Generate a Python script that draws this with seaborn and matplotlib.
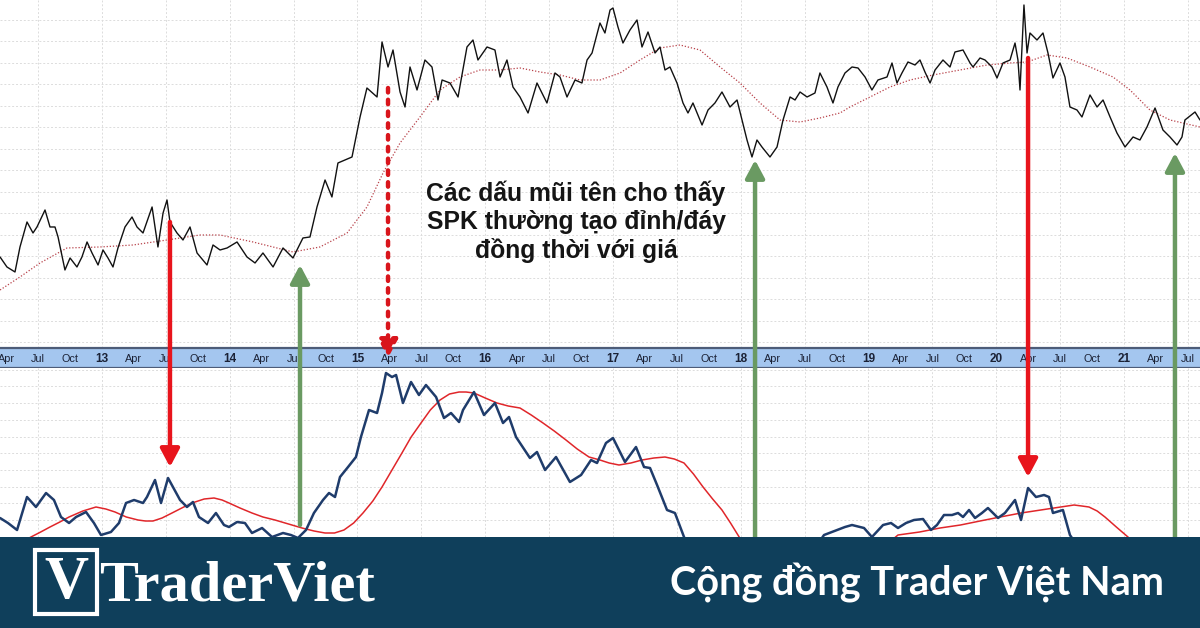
import numpy as np
import pandas as pd
import seaborn as sns
import matplotlib.pyplot as plt
from matplotlib.patches import Rectangle, ConnectionPatch

# ---- price (decimal year, level) ----
price_t = [2012.202, 2012.256, 2012.319, 2012.358, 2012.413, 2012.460, 2012.491, 2012.554, 2012.593, 2012.632,
           2012.656, 2012.710, 2012.750, 2012.804, 2012.843, 2012.883, 2012.922, 2012.969, 2013.008, 2013.047,
           2013.086, 2013.125, 2013.180, 2013.235, 2013.274, 2013.321, 2013.392, 2013.438, 2013.478, 2013.509,
           2013.532, 2013.587, 2013.634, 2013.689, 2013.744, 2013.822, 2013.869, 2013.924, 2013.979, 2014.057,
           2014.135, 2014.198, 2014.260, 2014.339, 2014.417, 2014.495, 2014.573, 2014.628, 2014.683, 2014.746,
           2014.800, 2014.847, 2014.957, 2015.020, 2015.074, 2015.153, 2015.192, 2015.239, 2015.278, 2015.333,
           2015.372, 2015.411, 2015.466, 2015.528, 2015.583, 2015.630, 2015.662, 2015.724, 2015.787, 2015.857,
           2015.904, 2015.943, 2016.014, 2016.076, 2016.116, 2016.170, 2016.217, 2016.272, 2016.335, 2016.405,
           2016.483, 2016.546, 2016.585, 2016.640, 2016.703, 2016.757, 2016.797, 2016.836, 2016.898, 2016.937,
           2016.977, 2017.000, 2017.039, 2017.078, 2017.133, 2017.188, 2017.227, 2017.274, 2017.329, 2017.368,
           2017.407, 2017.446, 2017.501, 2017.548, 2017.587, 2017.626, 2017.697, 2017.744, 2017.798, 2017.853,
           2017.916, 2017.971, 2018.010, 2018.049, 2018.088, 2018.127, 2018.166, 2018.229, 2018.284, 2018.331,
           2018.386, 2018.425, 2018.464, 2018.519, 2018.581, 2018.620, 2018.675, 2018.722, 2018.761, 2018.816,
           2018.871, 2018.918, 2018.973, 2019.027, 2019.074, 2019.145, 2019.184, 2019.223, 2019.262, 2019.309,
           2019.364, 2019.403, 2019.442, 2019.482, 2019.521, 2019.583, 2019.638, 2019.677, 2019.740, 2019.795,
           2019.818, 2019.873, 2019.912, 2019.967, 2020.006, 2020.053, 2020.108, 2020.147, 2020.170, 2020.186,
           2020.217, 2020.241, 2020.264, 2020.319, 2020.366, 2020.405, 2020.444, 2020.499, 2020.538, 2020.577,
           2020.632, 2020.671, 2020.734, 2020.789, 2020.836, 2020.891, 2020.945, 2021.008, 2021.071, 2021.125,
           2021.180, 2021.243, 2021.305, 2021.360, 2021.415, 2021.454, 2021.477, 2021.556, 2021.595]
price_v = [93, 83, 78, 103, 128, 117, 123, 140, 123, 123,
           113, 80, 92, 83, 93, 108, 97, 85, 100, 92,
           83, 102, 123, 133, 123, 117, 143, 103, 137, 150,
           128, 117, 110, 123, 97, 85, 105, 100, 102, 108,
           93, 87, 97, 83, 102, 92, 112, 113, 143, 170,
           153, 187, 193, 233, 262, 253, 308, 283, 300, 258,
           243, 283, 260, 290, 283, 250, 270, 267, 253, 303,
           310, 290, 303, 300, 273, 290, 263, 253, 237, 267,
           247, 277, 273, 253, 270, 267, 290, 297, 327, 317,
           340, 342, 323, 307, 320, 330, 303, 318, 297, 303,
           280, 283, 267, 247, 237, 247, 225, 240, 247, 258,
           243, 250, 230, 210, 193, 210, 203, 193, 203, 230,
           253, 250, 258, 253, 257, 277, 263, 247, 263, 277,
           283, 282, 273, 260, 270, 273, 287, 267, 277, 288,
           285, 290, 278, 267, 280, 290, 283, 298, 300, 287,
           283, 292, 290, 283, 272, 287, 290, 307, 290, 260,
           345, 297, 317, 310, 317, 297, 272, 287, 273, 243,
           240, 233, 255, 243, 250, 233, 217, 203, 213, 210,
           223, 242, 220, 213, 205, 213, 230, 238, 230]

# ---- moving average of price ----
ma_t = [2012.202, 2012.358, 2012.515, 2012.726, 2012.984, 2013.243, 2013.509, 2013.767, 2013.924, 2014.182,
        2014.495, 2014.706, 2014.918, 2015.074, 2015.200, 2015.333, 2015.489, 2015.646, 2015.802, 2015.959,
        2016.116, 2016.272, 2016.429, 2016.585, 2016.742, 2016.898, 2017.055, 2017.211, 2017.368, 2017.524,
        2017.681, 2017.838, 2017.994, 2018.151, 2018.307, 2018.464, 2018.620, 2018.777, 2018.855, 2019.012,
        2019.168, 2019.325, 2019.505, 2019.716, 2019.928, 2020.108, 2020.241, 2020.397, 2020.554, 2020.734,
        2020.914, 2021.047, 2021.203, 2021.360, 2021.595]
ma_v = [60, 73, 87, 102, 103, 105, 110, 115, 115, 108,
        98, 103, 117, 143, 177, 207, 233, 260, 273, 280,
        280, 282, 278, 275, 270, 270, 277, 290, 302, 305,
        300, 283, 267, 247, 230, 228, 232, 237, 243, 253,
        263, 270, 275, 280, 285, 287, 288, 295, 292, 283,
        273, 260, 240, 230, 223]

# ---- SPK indicator ----
spk_t = [2012.202, 2012.264, 2012.335, 2012.413, 2012.483, 2012.562, 2012.624, 2012.679, 2012.742, 2012.797,
         2012.875, 2012.937, 2012.992, 2013.070, 2013.133, 2013.188, 2013.251, 2013.321, 2013.352, 2013.415,
         2013.462, 2013.517, 2013.611, 2013.665, 2013.712, 2013.759, 2013.830, 2013.892, 2013.955, 2013.994,
         2014.057, 2014.119, 2014.174, 2014.253, 2014.331, 2014.417, 2014.479, 2014.534, 2014.597, 2014.659,
         2014.730, 2014.777, 2014.824, 2014.863, 2014.926, 2014.988, 2015.027, 2015.090, 2015.153, 2015.192,
         2015.223, 2015.270, 2015.302, 2015.356, 2015.419, 2015.481, 2015.536, 2015.615, 2015.677, 2015.732,
         2015.795, 2015.826, 2015.912, 2015.990, 2016.076, 2016.139, 2016.186, 2016.241, 2016.350, 2016.405,
         2016.468, 2016.554, 2016.663, 2016.750, 2016.828, 2016.875, 2016.945, 2017.000, 2017.094, 2017.180,
         2017.243, 2017.290, 2017.345, 2017.423, 2017.485, 2017.556, 2017.681, 2017.916, 2018.151, 2018.386,
         2018.542, 2018.652, 2018.816, 2018.871, 2018.965, 2019.027, 2019.114, 2019.176, 2019.231, 2019.294,
         2019.356, 2019.427, 2019.489, 2019.536, 2019.591, 2019.654, 2019.701, 2019.740, 2019.787, 2019.834,
         2019.888, 2019.935, 2020.014, 2020.068, 2020.147, 2020.194, 2020.249, 2020.311, 2020.374, 2020.413,
         2020.444, 2020.522, 2020.577, 2020.734, 2021.047, 2021.360, 2021.595]
spk_v = [22, 17, 10, 43, 33, 47, 40, 23, 17, 23,
         28, 17, 5, 8, 17, 37, 40, 37, 43, 60,
         37, 62, 40, 33, 38, 23, 17, 27, 15, 13,
         18, 17, 7, 12, 3, 7, 5, 2, 10, 27,
         40, 47, 43, 63, 73, 83, 103, 130, 127, 147,
         167, 163, 165, 137, 158, 145, 155, 143, 122, 127,
         118, 130, 148, 125, 137, 117, 123, 103, 82, 88,
         70, 83, 58, 65, 80, 77, 97, 102, 78, 93,
         73, 72, 55, 30, 27, 3, -25, -60, -70, -45,
         -15, 5, 13, 15, 12, 3, 15, 17, 12, 17,
         20, 21, 10, 15, 25, 25, 27, 23, 30, 22,
         27, 32, 22, 27, 40, 20, 52, 43, 45, 43,
         27, 30, 5, -25, -50, -40, -30]

# ---- SPK signal line ----
sig_t = [2012.202, 2012.320, 2012.444, 2012.520, 2012.593, 2012.670, 2012.742, 2012.850, 2012.953, 2013.030,
         2013.102, 2013.190, 2013.282, 2013.340, 2013.399, 2013.470, 2013.548, 2013.640, 2013.728, 2013.800,
         2013.877, 2013.940, 2013.994, 2014.080, 2014.174, 2014.260, 2014.354, 2014.460, 2014.566, 2014.660,
         2014.746, 2014.820, 2014.894, 2014.970, 2015.043, 2015.120, 2015.192, 2015.270, 2015.348, 2015.420,
         2015.497, 2015.570, 2015.646, 2015.720, 2015.795, 2015.850, 2015.912, 2016.000, 2016.092, 2016.180,
         2016.272, 2016.360, 2016.452, 2016.540, 2016.632, 2016.720, 2016.812, 2016.898, 2016.970, 2017.047,
         2017.140, 2017.227, 2017.320, 2017.407, 2017.480, 2017.556, 2017.630, 2017.705, 2017.780, 2017.853,
         2017.920, 2017.978, 2018.151, 2018.464, 2018.855, 2019.090, 2019.231, 2019.400, 2019.560, 2019.720,
         2019.873, 2020.030, 2020.194, 2020.400, 2020.609, 2020.670, 2020.726, 2020.790, 2020.851, 2020.940,
         2021.031, 2021.282, 2021.595]
sig_v = [-20, -6, 3, 8, 13, 18, 23, 29, 33, 31,
         28, 23, 20, 19, 19, 22, 27, 33, 38, 41,
         42, 40, 37, 32, 27, 23, 20, 16, 12, 9,
         7, 7, 10, 17, 27, 39, 53, 70, 87, 103,
         117, 130, 140, 146, 148, 148, 147, 142, 137, 134,
         132, 125, 117, 109, 100, 91, 83, 80, 77, 75,
         77, 80, 82, 83, 81, 77, 66, 53, 41, 30,
         17, 5, -30, -60, -40, -10, 5, 8, 12, 15,
         19, 23, 27, 31, 35, 34, 33, 29, 23, 13,
         3, -30, -60]

# ---- date band labels ----
label_years = [2012, 2013, 2014, 2015, 2016, 2017, 2018, 2019, 2020, 2021]
label_months = ["Jan", "Apr", "Jul", "Oct"]

# ---- arrows: (date, start level, start panel, tip level, tip panel, colour, style) ----
arrows = [
    (2013.532, 128, "top", 73, "bot", "#e8141c", "-"),
    (2015.239, 262, "top", -8, "top", "#d9151c", ":"),
    (2014.550, 15, "bot", 85, "top", "#6a9a62", "-"),
    (2018.112, 0, "bot", 190, "top", "#6a9a62", "-"),
    (2020.249, 292, "top", 63, "bot", "#e8141c", "-"),
    (2021.399, 0, "bot", 197, "top", "#6a9a62", "-"),
]

note = "Các dấu mũi tên cho thấy\nSPK thường tạo đỉnh/đáy\nđồng thời với giá"

price_df = pd.DataFrame({"t": price_t, "v": price_v})
ma_df = pd.DataFrame({"t": ma_t, "v": ma_v})
spk_df = pd.DataFrame({"t": spk_t, "v": spk_v})
sig_df = pd.DataFrame({"t": sig_t, "v": sig_v})

sns.set_style("white")
plt.rcParams["font.family"] = ["Liberation Sans", "DejaVu Sans"]

fig = plt.figure(figsize=(12, 6.28), dpi=100)
ax_top = fig.add_axes([0, 0.4459, 1, 0.5541])
ax_band = fig.add_axes([0, 0.4140, 1, 0.0319])
ax_bot = fig.add_axes([0, 0.1449, 1, 0.2691])
xmin, xmax = 2012.2016, 2021.595

half_years = np.arange(2012.5, 2021.6, 0.5)
grid_kw = dict(color="#dcdcdc", linestyle=(0, (2, 2)), linewidth=0.7)

for ax in (ax_top, ax_bot):
    ax.set_xlim(xmin, xmax)
    ax.set_xticks(half_years)
    ax.tick_params(length=0, labelbottom=False, labelleft=False)
    ax.grid(True, **grid_kw)
    for s in ax.spines.values():
        s.set_visible(False)

# price panel
ax_top.set_ylim(2, 350)
ax_top.set_yticks(np.arange(330, 0, -21.5))
sns.lineplot(data=ma_df, x="t", y="v", ax=ax_top, color="#b8424a", linewidth=0.9, linestyle=(0, (1, 1.5)))
sns.lineplot(data=price_df, x="t", y="v", ax=ax_top, color="#111111", linewidth=1.0)
ax_top.set_xlabel("")
ax_top.set_ylabel("")
ax_top.text(2016.711, 128, note, ha="center", va="center", fontsize=17.8, fontweight="bold",
            color="#151515", linespacing=1.2)

# SPK panel
ax_bot.set_ylim(3, 172)
ax_bot.set_yticks(np.arange(20, 172, 16.7))
sns.lineplot(data=sig_df, x="t", y="v", ax=ax_bot, color="#e0262a", linewidth=1.1)
sns.lineplot(data=spk_df, x="t", y="v", ax=ax_bot, color="#1f3c6b", linewidth=1.8)
ax_bot.set_xlabel("")
ax_bot.set_ylabel("")

# date band
ax_band.set_xlim(xmin, xmax)
ax_band.set_ylim(0, 1)
ax_band.set_facecolor("#a4c6ef")
ax_band.set_xticks([])
ax_band.set_yticks([])
for side in ("left", "right"):
    ax_band.spines[side].set_visible(False)
for side in ("top", "bottom"):
    ax_band.spines[side].set_color("#4d5c78")
    ax_band.spines[side].set_linewidth(1.6)
for yr in label_years:
    for i, mon in enumerate(label_months):
        pos = yr + i / 12 * 3
        if pos < xmin or pos > xmax:
            continue
        if mon == "Jan":
            ax_band.text(pos, 0.45, f"{yr % 100:02d}", ha="center", va="center", fontsize=8.5,
                         fontweight="bold", color="#1b2236")
        else:
            ax_band.text(pos, 0.45, mon, ha="center", va="center", fontsize=7.8, color="#1b2236")

# arrows across panels
panels = {"top": ax_top, "bot": ax_bot}
for t, y0, p0, y1, p1, col, ls in arrows:
    con = ConnectionPatch(xyA=(t, y0), coordsA=panels[p0].transData,
                          xyB=(t, y1), coordsB=panels[p1].transData,
                          arrowstyle="-|>,head_length=0.6,head_width=0.32", mutation_scale=18,
                          color=col, linewidth=3.2, linestyle=ls, zorder=6)
    fig.add_artist(con)

# banner
fig.add_artist(Rectangle((0, 0), 1, 0.1449, transform=fig.transFigure, facecolor="#0f3f5b",
                         edgecolor="none", zorder=10))
fig.add_artist(Rectangle((0.0292, 0.0223), 0.0516, 0.1019, transform=fig.transFigure, facecolor="none",
                         edgecolor="white", linewidth=3, zorder=11))
fig.text(0.055, 0.071, "V", ha="center", va="center", fontsize=44, fontweight="bold",
         family=["Liberation Serif", "DejaVu Serif"], color="white", zorder=12)
fig.text(0.0825, 0.044, "TraderViet", ha="left", va="baseline", fontsize=42, fontweight="bold",
         family=["Liberation Serif", "DejaVu Serif"], color="white", zorder=12)
fig.text(0.97, 0.071, "Cộng đồng Trader Việt Nam", ha="right", va="center", fontsize=28.5,
         fontweight="bold", family=["Lato", "DejaVu Sans"], color="white", zorder=12)

fig.savefig("out.png", dpi=100)
